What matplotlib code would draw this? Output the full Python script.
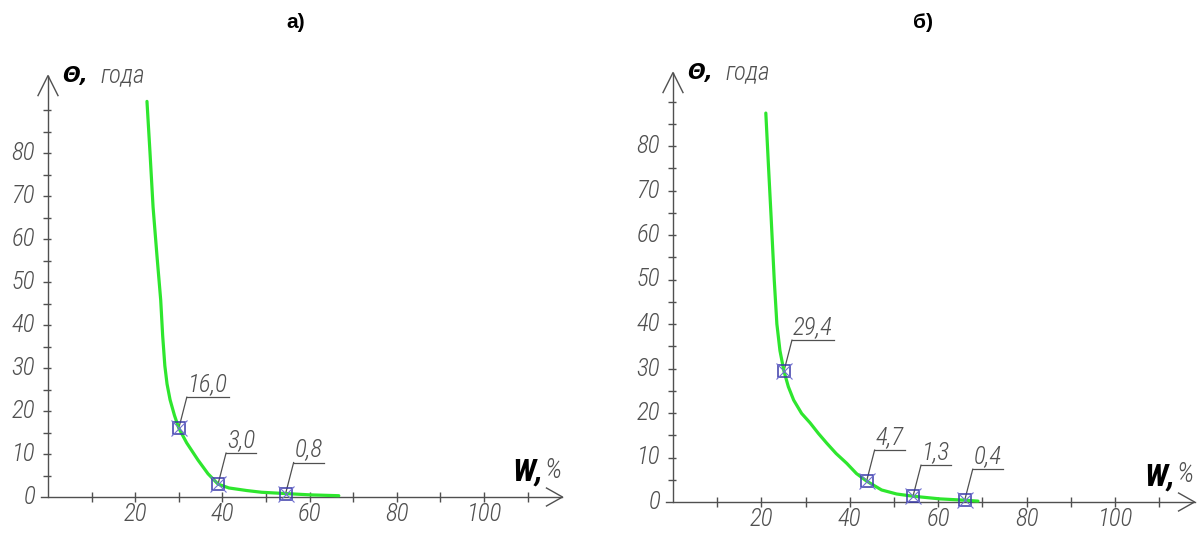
import matplotlib
matplotlib.use("Agg")
import matplotlib.pyplot as plt
from matplotlib import font_manager as fm

# curve a)
w_a = [22.7, 23.4, 24.1, 25.0, 25.85, 26.3, 26.8, 27.3, 28.0, 29.0, 30.0, 31.8, 34.4,
       36.7, 39.0, 41.5, 45.6, 49.0, 54.5, 60.0, 66.7]
theta_a = [92, 80, 67.4, 56, 45.8, 37.5, 30.5, 26.3, 22.6, 19.0, 16.0, 12.6, 8.6,
           5.4, 3.0, 2.1, 1.5, 1.1, 0.8, 0.5, 0.3]
pts_a_w = [30.0, 39.0, 54.5]
pts_a_theta = [16.0, 3.0, 0.8]
pts_a_labels = ["16,0", "3,0", "0,8"]

# curve б)
w_b = [21.0, 21.6, 22.2, 22.9, 23.5, 24.2, 25.1, 26.1, 27.3, 29.1, 31.0, 32.9, 34.8,
       36.9, 39.3, 41.5, 43.8, 47.2, 50.6, 54.3, 60.4, 66.0, 69.0]
theta_b = [87.4, 75.5, 64, 50, 40, 34, 29.4, 25.9, 22.9, 19.9, 17.8, 15.4, 13.2,
           10.9, 8.7, 6.4, 4.7, 2.7, 1.8, 1.3, 0.7, 0.4, 0.2]
pts_b_w = [25.1, 43.8, 54.3, 66.0]
pts_b_theta = [29.4, 4.7, 1.3, 0.4]
pts_b_labels = ["29,4", "4,7", "1,3", "0,4"]

x_ticks = list(range(10, 120, 10))
x_labels = [20, 40, 60, 80, 100]
y_ticks = list(range(5, 95, 5))
y_labels = [0, 10, 20, 30, 40, 50, 60, 70, 80]

W, H = 1204, 533
GRAY = "#505050"
GREEN = "#2ee62e"


def pick_narrow():
    # the drawing uses a narrow CAD font, take a condensed face if one exists
    for fam in ["Liberation Sans Narrow", "Roboto Condensed", "Noto Sans Condensed",
                "Open Sans Condensed", "DejaVu Sans Condensed"]:
        try:
            fm.findfont(fm.FontProperties(family=fam, style="italic"), fallback_to_default=False)
            return dict(family=[fam, "DejaVu Sans"]), 18
        except ValueError:
            pass
    for fam in ["Noto Sans", "Open Sans", "DejaVu Sans"]:
        path = fm.findfont(fm.FontProperties(family=fam, stretch="condensed", style="italic"))
        if "ondensed" in path or "Narrow" in path:
            return dict(family=[fam, "DejaVu Sans"], stretch="condensed"), 18
    return dict(family=["Roboto", "DejaVu Sans"]), 16


NARROW, NSIZE = pick_narrow()

fig = plt.figure(figsize=(W / 100, H / 100), dpi=100)


def make_axes(x0, y0, sx, sy, xlim, ylim):
    # x0, y0: pixel position of the origin, sx, sy: pixels per unit
    left = x0 + xlim[0] * sx
    right = x0 + xlim[1] * sx
    top = y0 - ylim[1] * sy
    bot = y0 - ylim[0] * sy
    ax = fig.add_axes([left / W, 1 - bot / H, (right - left) / W, (bot - top) / H])
    ax.set_xlim(xlim)
    ax.set_ylim(ylim)
    ax.axis("off")
    return ax


def thin_text(ax, x, y, s, **kw):
    return ax.text(x, y, s, fontsize=NSIZE, style="italic", weight="light",
                   color=GRAY, **NARROW, **kw)


def draw_panel(ax, sx, sy, xmax, ymax, w, theta, pw, pt, plabels):
    px = 1.0 / sx
    py = 1.0 / sy
    # axis lines with open arrow heads
    ax.plot([-1.5, xmax], [0, 0], color=GRAY, lw=1)
    ax.plot([xmax - 16 * px, xmax, xmax - 16 * px], [9 * py, 0, -9 * py], color=GRAY, lw=1)
    ax.plot([0, 0], [0, ymax], color=GRAY, lw=1)
    ax.plot([-10 * px, 0, 10 * px], [ymax - 20 * py, ymax, ymax - 20 * py], color=GRAY, lw=1)
    ax.plot(x_ticks, [0] * len(x_ticks), ls="none", marker="|", ms=7, mew=1, color=GRAY)
    ax.plot([-1.5 * px] * len(y_ticks), y_ticks, ls="none", marker="_", ms=6, mew=1, color=GRAY)

    for v in x_labels:
        thin_text(ax, v, -17 * py, str(v), ha="center", va="center")
    for v in y_labels:
        thin_text(ax, -13 * px, v, str(v), ha="right", va="center")

    ax.text(14 * px, ymax, "Θ,", ha="left", va="center", fontsize=15,
            style="italic", weight="bold", color="black", family=["DejaVu Sans"])
    thin_text(ax, 52 * px, ymax, "года", ha="left", va="center")
    ax.text(xmax - 19 * px, 25 * py, "W,", ha="right", va="center", fontsize=23,
            style="italic", weight="bold", color="black", **NARROW)
    ax.text(xmax - 18 * px, 27 * py, "%", ha="left", va="center", fontsize=20,
            style="italic", weight="light", color=GRAY, **NARROW)

    ax.plot(w, theta, color=GREEN, lw=2.3, solid_capstyle="round",
            solid_joinstyle="round", zorder=3)

    renderer = fig.canvas.get_renderer()
    for x, y, lab in zip(pw, pt, plabels):
        ax.plot(x, y, marker="s", ms=9, mfc="none", mec="#3a3aa8", mew=1.1, zorder=4)
        ax.plot(x, y, marker="x", ms=12, mec="#7070d0", mew=0.8, zorder=4)
        lx = x + 8 * px
        ly = y + 31 * py
        ax.plot([x, lx], [y, ly], color=GRAY, lw=0.9)
        t = thin_text(ax, lx + 1 * px, ly + 1 * py, lab, ha="left", va="bottom")
        tw = t.get_window_extent(renderer).width
        ax.plot([lx, lx + (tw + 2) * px], [ly, ly], color=GRAY, lw=0.9)


ax_a = make_axes(48, 497, 4.36, 4.3, (-11, 122), (-8, 108))
draw_panel(ax_a, 4.36, 4.3, 118, 98, w_a, theta_a, pts_a_w, pts_a_theta, pts_a_labels)

ax_b = make_axes(673, 502, 4.42, 4.45, (-11, 120), (-6.5, 105))
draw_panel(ax_b, 4.42, 4.45, 118, 96.5, w_b, theta_b, pts_b_w, pts_b_theta, pts_b_labels)

for xp, t in [(296, "а)"), (923, "б)")]:
    fig.text(xp / W, 1 - 22 / H, t, ha="center", va="center", fontsize=15,
             weight="bold", color="black", family=["Liberation Sans", "DejaVu Sans"])

fig.savefig("out.png", dpi=100, facecolor="white")
